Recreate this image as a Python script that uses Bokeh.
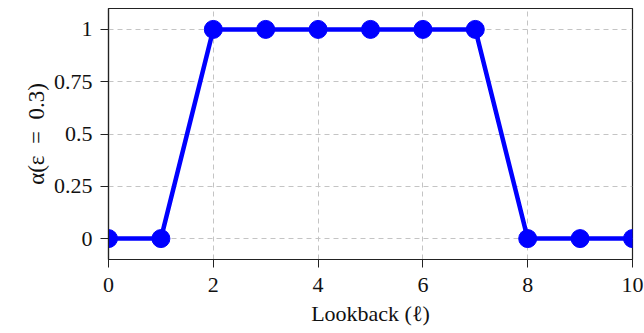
from bokeh.plotting import figure
from bokeh.embed import file_html
from bokeh.resources import INLINE
from bokeh.models import FixedTicker, Range1d

lookback = [0, 1, 2, 3, 4, 5, 6, 7, 8, 9, 10]
alpha = [0, 0, 1, 1, 1, 1, 1, 1, 0, 0, 0]
x_ticks = [0, 2, 4, 6, 8, 10]
y_ticks = [0, 0.25, 0.5, 0.75, 1]
y_tick_labels = {0: "0", 0.25: "0.25", 0.5: "0.5", 0.75: "0.75", 1: "1"}

FONT = "Liberation Serif"

p = figure(width=644, height=333, output_backend="svg", toolbar_location=None,
           x_range=Range1d(0, 10), y_range=Range1d(-0.1, 1.1))
p.min_border_left = 108
p.min_border_right = 12
p.min_border_top = 8
p.min_border_bottom = 74

p.line(lookback, alpha, line_color="#0000ff", line_width=4.5)
p.scatter(lookback, alpha, size=18, fill_color="#0000ff", line_color="#0000ff")

p.outline_line_color = "#222222"
p.outline_line_width = 1.2

for ax in (p.xaxis[0], p.yaxis[0]):
    ax.axis_line_color = "#222222"
    ax.axis_line_width = 1.2
    ax.major_tick_line_color = "#222222"
    ax.major_tick_out = 8
    ax.major_tick_in = 0
    ax.minor_tick_line_color = None
    ax.major_label_text_font = FONT
    ax.major_label_text_font_size = "22px"
    ax.major_label_text_color = "#111111"
    ax.axis_label_text_font = FONT
    ax.axis_label_text_font_size = "22px"
    ax.axis_label_text_font_style = "normal"
    ax.axis_label_text_color = "#111111"

p.yaxis.axis_label_text_font_size = "23px"
p.xaxis.ticker = FixedTicker(ticks=x_ticks)
p.yaxis.ticker = FixedTicker(ticks=y_ticks)
p.yaxis.major_label_overrides = y_tick_labels
p.xaxis.major_label_standoff = 10
p.yaxis.major_label_standoff = 8
p.xaxis.axis_label = "Lookback (ℓ)"
p.yaxis.axis_label = "α(ε\u2002=\u20020.3)"
p.xaxis.axis_label_standoff = 6
p.yaxis.axis_label_standoff = 2

for g in (p.xgrid[0], p.ygrid[0]):
    g.grid_line_color = "#c4c4c4"
    g.grid_line_dash = "5 4"
    g.grid_line_width = 1

open("out.html", "w").write(file_html(p, INLINE))
